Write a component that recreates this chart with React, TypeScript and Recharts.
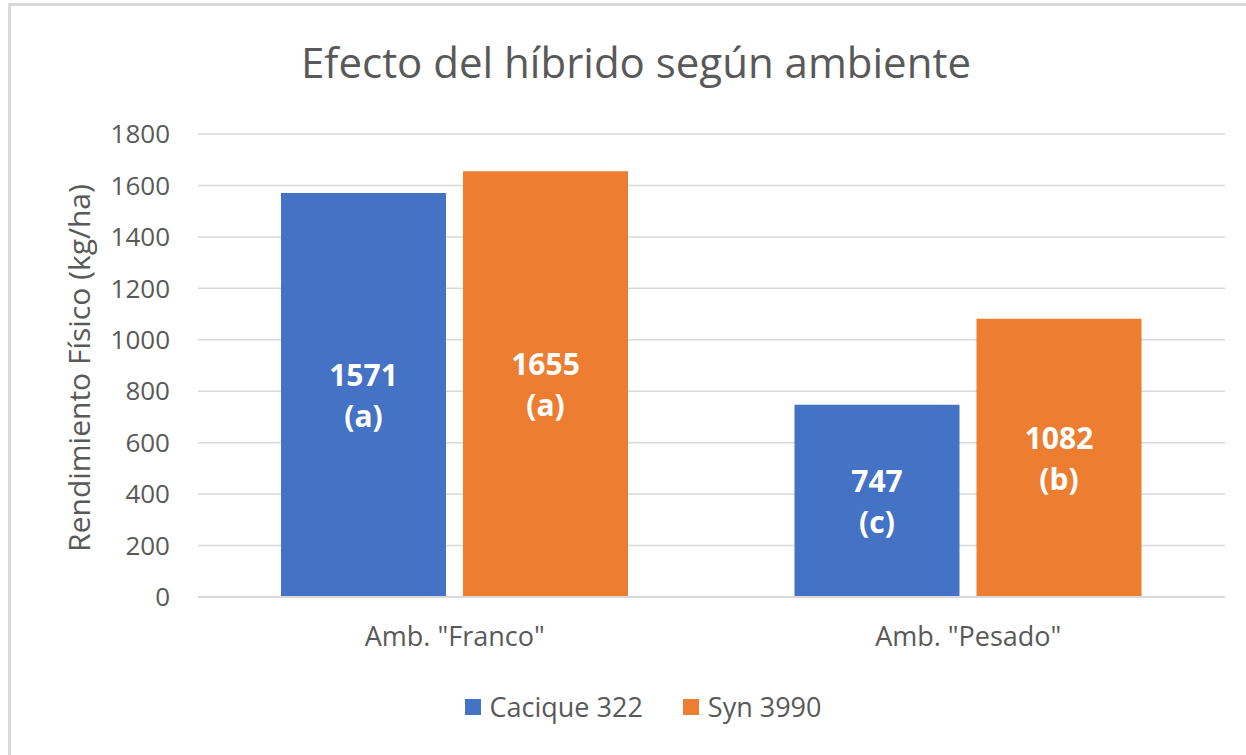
import React from 'react';
import { BarChart, Bar, XAxis, YAxis, CartesianGrid, Legend, LabelList } from 'recharts';

const categories = ['Amb. "Franco"', 'Amb. "Pesado"'];
const caciqueValues = [1571, 747];
const synValues = [1655, 1082];
const caciqueLetters = ['(a)', '(c)'];
const synLetters = ['(a)', '(b)'];
const yTicks = [0, 200, 400, 600, 800, 1000, 1200, 1400, 1600, 1800];
const seriesNames = ['Cacique 322', 'Syn 3990'];
const seriesColors = ['#4472C4', '#ED7D31'];

const data = categories.map((c, i) => ({
  name: c,
  cacique: caciqueValues[i],
  syn: synValues[i],
  caciqueLetter: caciqueLetters[i],
  synLetter: synLetters[i],
}));

const FONT = '"Open Sans", sans-serif';
const GREY = '#595959';

const makeLabel = (letters: string[]) => (props: any) => {
  const { x, y, width, height, value, index } = props;
  const cx = Number(x) + Number(width) / 2;
  const cy = Number(y) + Number(height) / 2;
  return (
    <text
      x={cx}
      y={cy}
      textAnchor="middle"
      fill="#ffffff"
      fontFamily={FONT}
      fontWeight={700}
      fontSize={30}
    >
      <tspan x={cx} y={cy - 9}>{value}</tspan>
      <tspan x={cx} y={cy + 32}>{letters[index]}</tspan>
    </text>
  );
};

const LegendContent = () => (
  <div
    style={{
      display: 'flex',
      justifyContent: 'center',
      alignItems: 'center',
      fontFamily: FONT,
      fontSize: 27,
      color: GREY,
      paddingLeft: 40,
    }}
  >
    {seriesNames.map((n, i) => (
      <div key={n} style={{ display: 'flex', alignItems: 'center', marginRight: i === 0 ? 40 : 0 }}>
        <div style={{ width: 16, height: 16, background: seriesColors[i], marginRight: 9 }} />
        <span>{n}</span>
      </div>
    ))}
  </div>
);

export default function App() {
  return (
    <div
      style={{
        position: 'absolute',
        left: 0,
        top: 0,
        width: 1246,
        height: 755,
        overflow: 'hidden',
        background: '#ffffff',
      }}
    >
      <div
        style={{
          position: 'absolute',
          left: 8,
          top: 3,
          width: 1300,
          height: 800,
          borderTop: '3px solid #d9d9d9',
          borderLeft: '3px solid #d9d9d9',
        }}
      />
      <svg style={{ position: 'absolute', left: 0, top: 0 }} width={1246} height={120}>
        <text x={636} y={78} textAnchor="middle" fontFamily={FONT} fontSize={42} fill={GREY}>
          Efecto del híbrido según ambiente
        </text>
      </svg>
      <div style={{ position: 'absolute', left: 0, top: 0 }}>
        <BarChart
          width={1246}
          height={755}
          data={data}
          margin={{ top: 134, right: 21, bottom: 98, left: 98 }}
          barCategoryGap={83}
          barGap={17}
        >
          <CartesianGrid vertical={false} stroke="#d9d9d9" strokeWidth={1.5} />
          <XAxis
            dataKey="name"
            height={60}
            tickLine={false}
            tickSize={0}
            tickMargin={30}
            axisLine={{ stroke: '#d9d9d9', strokeWidth: 2 }}
            tick={{ fill: GREY, fontSize: 27, fontFamily: FONT }}
          />
          <YAxis
            width={100}
            domain={[0, 1800]}
            ticks={yTicks}
            tickLine={false}
            axisLine={false}
            tickSize={0}
            tickMargin={28}
            tick={{ fill: GREY, fontSize: 26, fontFamily: FONT }}
            label={{
              content: () => (
                <text
                  x={78}
                  y={368}
                  transform="rotate(-90 78 368)"
                  textAnchor="middle"
                  dominantBaseline="central"
                  fontFamily={FONT}
                  fontSize={30}
                  fill={GREY}
                >
                  Rendimiento Físico (kg/ha)
                </text>
              ),
            }}
          />
          <Legend
            content={<LegendContent />}
            wrapperStyle={{ position: 'absolute', top: 688, left: 0, width: 1246, height: 0, overflow: 'visible' }}
          />
          <Bar dataKey="cacique" name={seriesNames[0]} fill={seriesColors[0]} isAnimationActive={false}>
            <LabelList dataKey="cacique" content={makeLabel(caciqueLetters)} />
          </Bar>
          <Bar dataKey="syn" name={seriesNames[1]} fill={seriesColors[1]} isAnimationActive={false}>
            <LabelList dataKey="syn" content={makeLabel(synLetters)} />
          </Bar>
        </BarChart>
      </div>
    </div>
  );
}
